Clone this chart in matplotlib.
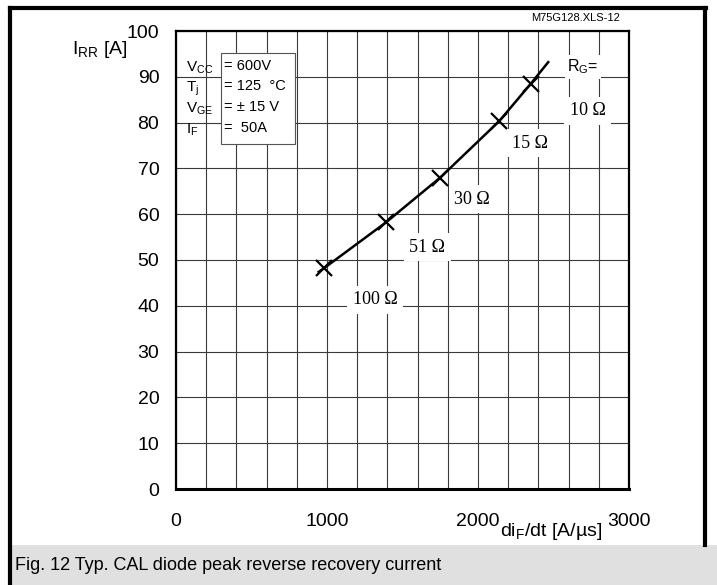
import matplotlib.pyplot as plt
from matplotlib.lines import Line2D
from matplotlib.patches import Rectangle

W, H = 717, 585

curve_didt = [945, 980, 1390, 1750, 2140, 2350, 2465]
curve_irr = [47.4, 48.2, 58.2, 68.0, 80.3, 88.5, 93.2]
marker_didt = [980, 1390, 1750, 2140, 2350]
marker_irr = [48.2, 58.2, 68.0, 80.3, 88.5]
rg_labels = ["100 Ω", "51 Ω", "30 Ω", "15 Ω", "10 Ω"]
x_ticks = [0, 1000, 2000, 3000]
y_ticks = list(range(0, 101, 10))
cond_names = [r"$\mathregular{V_{CC}}$", r"$\mathregular{T_{j}}$",
              r"$\mathregular{V_{GE}}$", r"$\mathregular{I_{F}}$"]
cond_values = ["= 600V", "= 125  °C", "= ± 15 V", "=  50A"]

# label placement in data coords
label_pos = [(1320, 41.3), (1665, 52.8), (1960, 63.3), (2345, 75.5), (2728, 82.6)]

plt.rcParams["font.family"] = ["Liberation Sans", "DejaVu Sans"]


def fx(x):
    return x / W


def fy(y):
    return 1 - y / H


fig = plt.figure(figsize=(W / 100, H / 100), dpi=100)

# caption band and outer frame
fig.add_artist(Rectangle((fx(10), 0), 1 - fx(10), fy(545), transform=fig.transFigure,
                         facecolor="#e0e0e0", edgecolor="none"))
for xs, ys in [((10, 10), (8, 585)), ((10, 706), (8, 8)), ((705, 705), (8, 545))]:
    fig.add_artist(Line2D([fx(v) for v in xs], [fy(v) for v in ys],
                          transform=fig.transFigure, color="black", lw=3))
fig.text(fx(15), fy(565), "Fig. 12 Typ. CAL diode peak reverse recovery current",
         fontsize=13, va="center", ha="left")
fig.text(fx(620), fy(18), "M75G128.XLS-12", fontsize=8, ha="right", va="center")

ax = fig.add_axes([fx(176), fy(489), fx(629) - fx(176), fy(31) - fy(489)])
ax.set_xlim(0, 3000)
ax.set_ylim(0, 100)
ax.set_xticks(x_ticks)
ax.set_yticks(y_ticks)
ax.set_xticks(range(0, 3001, 200), minor=True)
ax.tick_params(which="both", length=0, labelsize=14)
ax.tick_params(axis="y", pad=12)
ax.tick_params(axis="x", pad=17)
ax.grid(which="both", color="#3a3a3a", lw=0.8)
for side in ["top", "right", "left"]:
    ax.spines[side].set_linewidth(1.6)
ax.spines["bottom"].set_linewidth(2.2)

ax.plot(curve_didt, curve_irr, color="black", lw=1.8, zorder=4)
ax.plot(marker_didt, marker_irr, ls="none", marker="x", ms=11, mew=1.6,
        color="black", zorder=5)

for (lx, ly), txt in zip(label_pos, rg_labels):
    ax.text(lx, ly, txt, family="Liberation Serif", fontsize=13, ha="center",
            va="center", zorder=6,
            bbox=dict(facecolor="white", edgecolor="none", pad=4))
ax.text(2695, 92.2, r"$\mathregular{R_{G}}$=", fontsize=11.5, ha="center", va="center",
        zorder=6, bbox=dict(facecolor="white", edgecolor="none", pad=2))

# conditions box
ax.add_patch(Rectangle((fx(221), fy(144)), fx(295) - fx(221), fy(53) - fy(144),
                       transform=fig.transFigure, facecolor="white",
                       edgecolor="#555555", lw=0.8, zorder=6))
for i, (name, val) in enumerate(zip(cond_names, cond_values)):
    y = 66 + i * 20.5
    fig.text(fx(186), fy(y + 2), name, fontsize=11, va="center", ha="left", zorder=7)
    fig.text(fx(224), fy(y), val, fontsize=10.5, va="center", ha="left", zorder=7)

fig.text(fx(128), fy(50), r"$\mathregular{I_{RR}}$ [A]", fontsize=14, ha="right", va="center")
fig.text(fx(551), fy(531), r"di$\mathregular{_F}$/dt [A/µs]", fontsize=14, ha="center",
         va="center")

fig.savefig("out.png", dpi=100)
